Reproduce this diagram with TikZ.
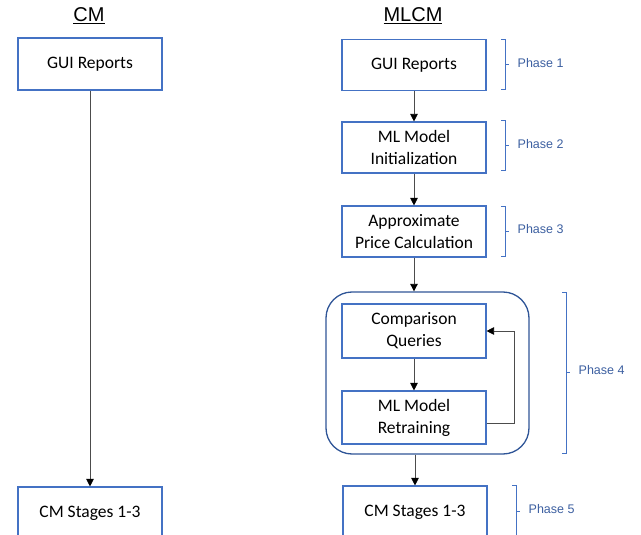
\documentclass[tikz,border=0pt]{standalone}
\usepackage{fontspec}
\setmainfont{Carlito}
\newfontfamily\arialf{Liberation Sans}
\usetikzlibrary{arrows.meta}
\definecolor{boxblue}{RGB}{68,114,196}
\definecolor{darkblue}{RGB}{47,85,151}
\definecolor{phasetext}{RGB}{60,95,160}
\tikzset{
 box/.style={draw=boxblue, line width=1.1pt, minimum width=144pt, align=center, font=\fontsize{17.5}{22}\selectfont, inner sep=0pt},
 arr/.style={draw=black!70, line width=0.8pt, -{Triangle[width=7.5pt,length=7.5pt,fill=black,color=black]}},
 brk/.style={draw=boxblue, line width=1pt},
 phase/.style={font=\arialf\fontsize{12.5}{15}\selectfont, text=phasetext, anchor=west, inner sep=0pt},
 head/.style={font=\arialf\fontsize{20}{24}\selectfont, anchor=base, inner sep=0pt}
}
\newcommand\phbr[6]{%
 \draw[brk] (#1-4,#2) -- (#1,#2) -- (#1,#3) -- (#1-4,#3);
 \draw[brk] (#1,#6) -- (#1+4,#6);
 \node[phase] (#5) at (#1+12.5,#6-2) {#4};
}
\begin{document}
\begin{tikzpicture}[x=1pt,y=-1pt]
\useasboundingbox (0,0) rectangle (641,535);
\node[head] (hcm) at (89,21.5) {\underline{CM}};
\node[head] (hmlcm) at (413,21.5) {\underline{MLCM}};
\node[box, minimum height=52pt] (lgui) at (90,64) {GUI Reports};
\node[box, minimum height=52pt] (lcm) at (90,513) {CM Stages 1-3};
\node[box, minimum height=51pt] (rgui) at (414,65) {GUI Reports};
\node[box, minimum height=51pt] (init) at (414,147.5) {ML Model\\Initialization};
\node[box, minimum height=51pt] (approx) at (414,231.5) {Approximate\\Price Calculation};
\node[draw=darkblue, line width=1.3pt, rounded corners=26pt, minimum width=203pt, minimum height=162pt] (cont) at (427.5,373) {};
\node[box, minimum height=54pt] (comp) at (414,331) {Comparison\\Queries};
\node[box, minimum height=53pt] (retr) at (414,417.5) {ML Model\\Retraining};
\node[box, minimum height=52pt] (rcm) at (415,512) {CM Stages 1-3};
\draw[arr] (lgui) -- (lcm);
\draw[arr] (rgui) -- (init);
\draw[arr] (init) -- (approx);
\draw[arr] (approx.south) -- (approx.south |- cont.north);
\draw[arr] (comp) -- (retr);
\draw[arr] ([yshift=-5.5pt]retr.east) -- ++(28,0) |- (comp.east);
\draw[arr] (rcm.north |- cont.south) -- (rcm.north);
\phbr{505}{40}{90}{Phase 1}{p1}{65}
\phbr{505}{121}{171}{Phase 2}{p2}{146}
\phbr{505}{206}{256}{Phase 3}{p3}{231}
\phbr{566}{292}{453}{Phase 4}{p4}{372.5}
\phbr{516}{485}{538}{Phase 5}{p5}{511}
\end{tikzpicture}
\end{document}
